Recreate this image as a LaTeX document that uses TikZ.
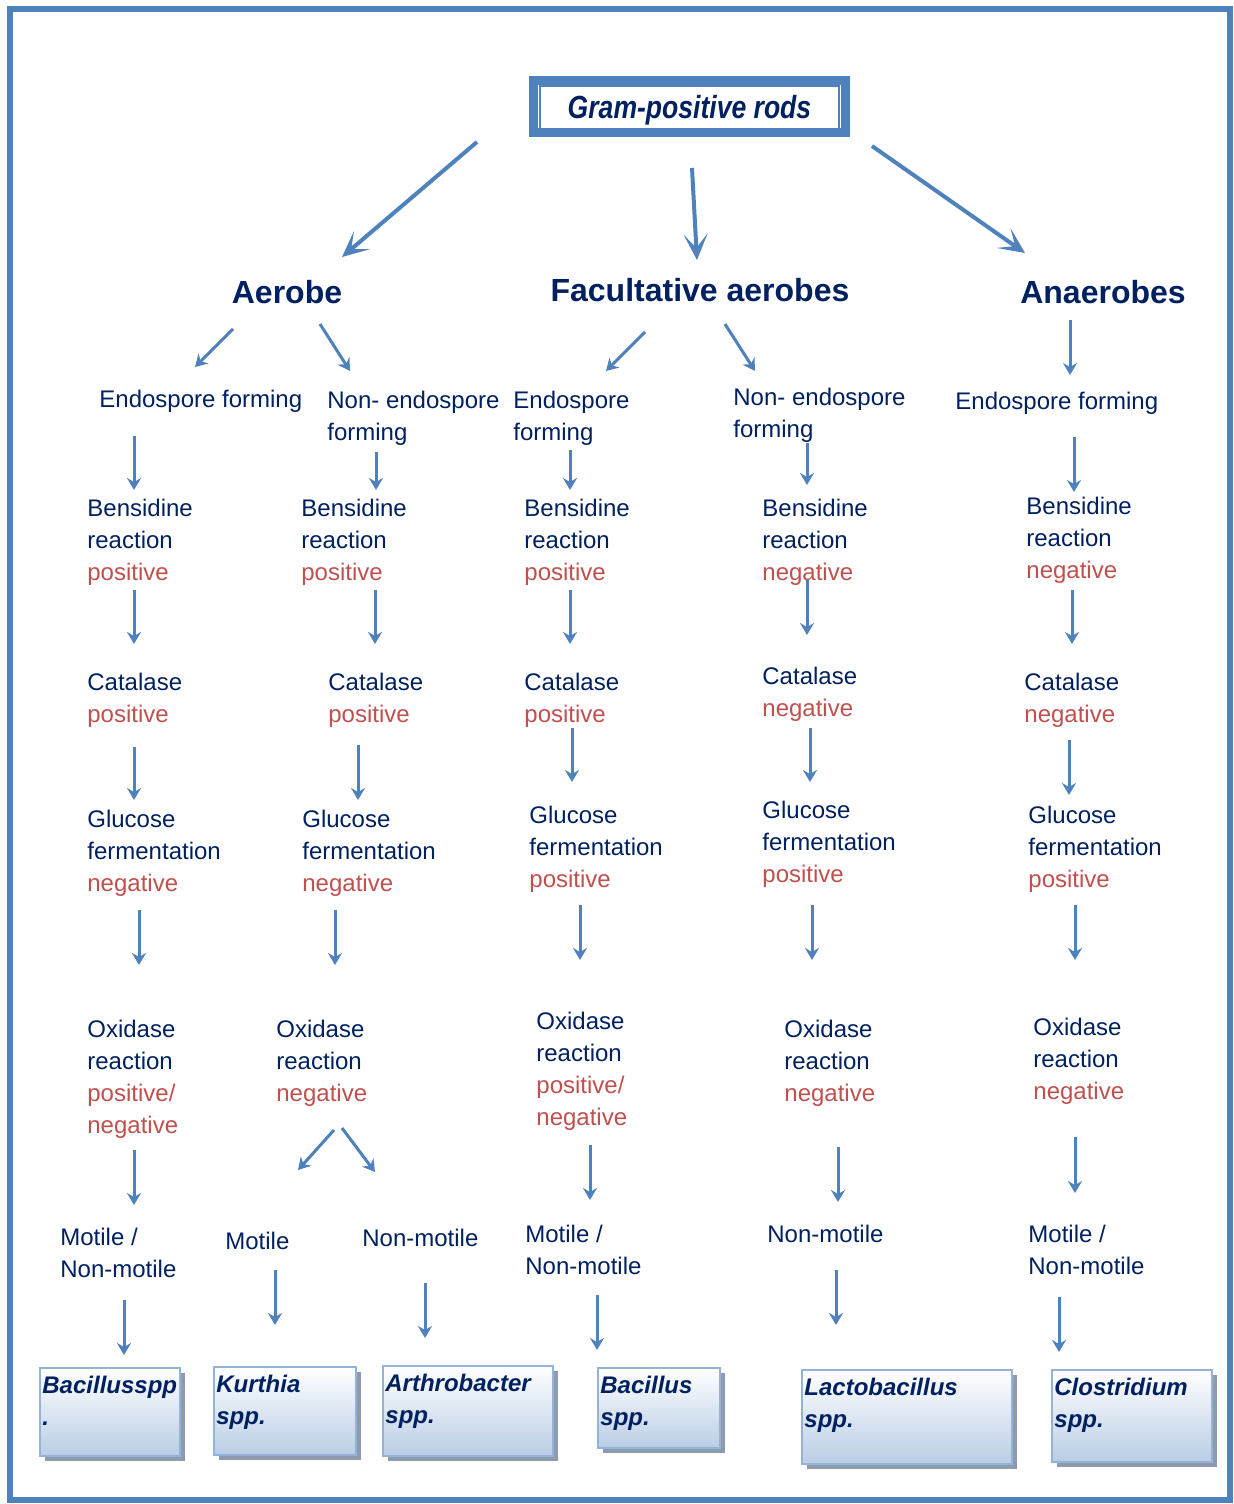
\documentclass[tikz,border=0pt]{standalone}
\usepackage{fontspec}
\setmainfont{Liberation Sans}
\usetikzlibrary{arrows.meta, shadows}

\definecolor{flowblue}{HTML}{4F81BD}
\definecolor{inkblue}{HTML}{002060}
\definecolor{resred}{HTML}{C0504D}
\definecolor{boxedge}{HTML}{95B3D7}
\definecolor{boxfill}{HTML}{B9CDE5}
\definecolor{boxshade}{HTML}{8E9BAE}

\newcommand{\rd}[1]{\textcolor{resred}{#1}}

\tikzset{
  txt/.style={anchor=north west, inner sep=0pt, align=left, text=inkblue, font=\fontsize{12}{16}\selectfont},
  head/.style={inner sep=0pt, text=inkblue, font=\fontsize{16}{19}\selectfont\bfseries},
  flow/.style={draw=flowblue, line width=1.5pt, -{Stealth[length=6pt,width=7pt,inset=2pt]}},
  bigflow/.style={draw=flowblue, line width=2pt, -{Stealth[length=13pt,width=12pt,inset=7pt]}},
  genus/.style={anchor=north west, draw=boxedge, line width=1.2pt, top color=white, bottom color=boxfill,
    drop shadow={shadow xshift=2.2pt, shadow yshift=-2.2pt, fill=boxshade, opacity=1}},
  genustxt/.style={anchor=north west, inner sep=0pt, align=left, text=inkblue, font=\fontsize{12}{16}\selectfont\bfseries\itshape}
}

\begin{document}
\begin{tikzpicture}[x=0.5pt, y=-0.5pt]
    \useasboundingbox (0,0) rectangle (1233,1504);
    \draw[flowblue, line width=3pt] (10,9) rectangle (1230,1500);

    % title
    \node[draw=flowblue, line width=4.5pt, outer sep=0pt, inner sep=0pt, minimum width=156pt, minimum height=26pt,
          text depth=0pt, text=inkblue]
        (gram) at (689.5,106.5) {\scalebox{0.83}[1]{\fontsize{16}{19}\selectfont\bfseries\itshape Gram-positive rods}};
    \draw[flowblue, line width=1pt] ([shift={(6.5,5.5)}]gram.north west) rectangle ([shift={(-6.5,-3.5)}]gram.south east);

    \node[head] (aer) at (287,292) {Aerobe};
    \node[head] (fac) at (700,290) {Facultative aerobes};
    \node[head] (ana) at (1103,292) {Anaerobes};

    % aerobe, endospore forming
    \node[txt] (end1) at (99,390) {Endospore forming};
    \node[txt] (ben1) at (87,499) {Bensidine\\reaction\\\rd{positive}};
    \node[txt] (cat1) at (87,673) {Catalase\\\rd{positive}};
    \node[txt] (glu1) at (87,810) {Glucose\\fermentation\\\rd{negative}};
    \node[txt] (oxi1) at (87,1020) {Oxidase\\reaction\\\rd{positive/}\\\rd{negative}};
    \node[txt] (mot1) at (60,1228) {Motile /\\Non-motile};

    % aerobe, non-endospore forming
    \node[txt] (end2) at (327,391) {Non- endospore\\forming};
    \node[txt] (ben2) at (301,499) {Bensidine\\reaction\\\rd{positive}};
    \node[txt] (cat2) at (328,673) {Catalase\\\rd{positive}};
    \node[txt] (glu2) at (302,810) {Glucose\\fermentation\\\rd{negative}};
    \node[txt] (oxi2) at (276,1020) {Oxidase\\reaction\\\rd{negative}};
    \node[txt] (mot2a) at (225,1232) {Motile};
    \node[txt] (mot2b) at (362,1229) {Non-motile};

    % facultative, endospore forming
    \node[txt] (end3) at (513,391) {Endospore\\forming};
    \node[txt] (ben3) at (524,499) {Bensidine\\reaction\\\rd{positive}};
    \node[txt] (cat3) at (524,673) {Catalase\\\rd{positive}};
    \node[txt] (glu3) at (529,806) {Glucose\\fermentation\\\rd{positive}};
    \node[txt] (oxi3) at (536,1012) {Oxidase\\reaction\\\rd{positive/}\\\rd{negative}};
    \node[txt] (mot3) at (525,1225) {Motile /\\Non-motile};

    % facultative, non-endospore forming
    \node[txt] (end4) at (733,388) {Non- endospore\\forming};
    \node[txt] (ben4) at (762,499) {Bensidine\\reaction\\\rd{negative}};
    \node[txt] (cat4) at (762,667) {Catalase\\\rd{negative}};
    \node[txt] (glu4) at (762,801) {Glucose\\fermentation\\\rd{positive}};
    \node[txt] (oxi4) at (784,1020) {Oxidase\\reaction\\\rd{negative}};
    \node[txt] (mot4) at (767,1225) {Non-motile};

    % anaerobes
    \node[txt] (end5) at (955,392) {Endospore forming};
    \node[txt] (ben5) at (1026,497) {Bensidine\\reaction\\\rd{negative}};
    \node[txt] (cat5) at (1024,673) {Catalase\\\rd{negative}};
    \node[txt] (glu5) at (1028,806) {Glucose\\fermentation\\\rd{positive}};
    \node[txt] (oxi5) at (1033,1018) {Oxidase\\reaction\\\rd{negative}};
    \node[txt] (mot5) at (1028,1225) {Motile /\\Non-motile};

    % genus boxes
    \node[genus, minimum width=70pt, minimum height=44pt] (bac1) at (39,1367) {};
    \node[genus, minimum width=71pt, minimum height=44pt] (kur) at (213,1366) {};
    \node[genus, minimum width=85pt, minimum height=45pt] (arth) at (382,1365) {};
    \node[genus, minimum width=61pt, minimum height=40pt] (bac2) at (597,1367) {};
    \node[genus, minimum width=105pt, minimum height=47pt] (lac) at (801,1369) {};
    \node[genus, minimum width=80pt, minimum height=46pt] (clo) at (1051,1369) {};
    \node[genustxt] (bac1t) at ([shift={(3,9)}]bac1.north west) {Bacillusspp\\.};
    \node[genustxt] (kurt) at ([shift={(3,9)}]kur.north west) {Kurthia\\spp.};
    \node[genustxt] (artht) at ([shift={(3,9)}]arth.north west) {Arthrobacter\\spp.};
    \node[genustxt] (bac2t) at ([shift={(3,9)}]bac2.north west) {Bacillus\\spp.};
    \node[genustxt] (lact) at ([shift={(3,9)}]lac.north west) {Lactobacillus\\spp.};
    \node[genustxt] (clot) at ([shift={(3,9)}]clo.north west) {Clostridium\\spp.};

    % big arrows
    \foreach \n/\xa/\ya/\xb/\yb in {g1/477/142/342/257, g2/692/168/697/260, g3/872/146/1025/253} {
        \coordinate (t\n) at (\xa,\ya);
        \coordinate (h\n) at (\xb,\yb);
        \draw[bigflow] (t\n) -- (h\n);
    }

    % small arrows
    \foreach \n/\xa/\ya/\xb/\yb in {
        d1/233/329/195/367, d2/320/324/350/371, d3/645/332/606/371, d4/725/324/755/371,
        d5/334/1130/298/1170, d6/342/1128/375/1172,
        a1/134/436/134/490, a2/134/590/134/644, a3/134/747/134/800, a4/139/910/139/965, a5/134/1150/134/1205, a6/124/1300/124/1355,
        b1/376/452/376/490, b2/375/590/375/644, b3/358/745/358/800, b4/335/910/335/965, b5/275/1270/275/1325, b6/425/1283/425/1338,
        c1/570/450/570/490, c2/570/590/570/644, c3/572/728/572/782, c4/580/905/580/960, c5/590/1145/590/1200, c6/597/1295/597/1350,
        e1/807/443/807/485, e2/807/580/807/635, e3/810/728/810/782, e4/812/905/812/960, e5/838/1147/838/1202, e6/836/1270/836/1325,
        f0/1070/320/1070/375, f1/1074/437/1074/492, f2/1072/590/1072/644, f3/1069/740/1069/795, f4/1075/905/1075/960, f5/1075/1137/1075/1193, f6/1059/1297/1059/1352} {
        \coordinate (t\n) at (\xa,\ya);
        \coordinate (h\n) at (\xb,\yb);
        \draw[flow] (t\n) -- (h\n);
    }
\end{tikzpicture}
\end{document}
